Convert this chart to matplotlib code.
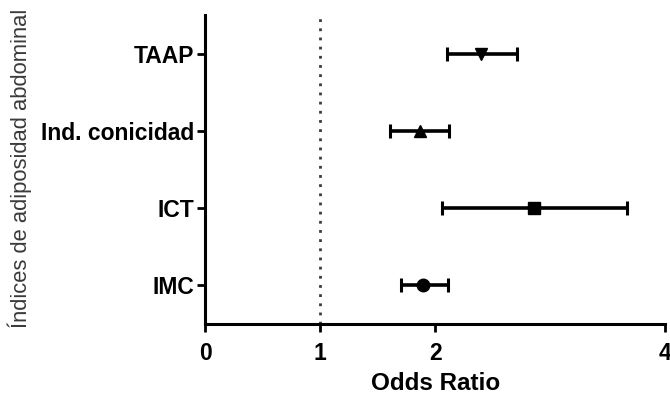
import matplotlib.pyplot as plt

# Odds ratios with 95% CI per abdominal adiposity index
labels = ['IMC', 'ICT', 'Ind. conicidad', 'TAAP']
odds = [1.89, 2.86, 1.87, 2.40]
ci_low = [1.70, 2.06, 1.61, 2.10]
ci_high = [2.11, 3.67, 2.12, 2.71]
markers = ['o', 's', '^', 'v']
xticks = [0, 1, 2, 4]

plt.rcParams['font.family'] = ['Liberation Sans', 'DejaVu Sans']

fig = plt.figure(figsize=(6.7, 3.96), dpi=100)
ax = fig.add_axes([0.306, 0.182, 0.687, 0.78])

# reference line at OR = 1
ax.axvline(1, color='#3a3a3a', linestyle=(0, (1, 2.3)), linewidth=2.0, zorder=1)

for i, (m, lo, hi, mk) in enumerate(zip(odds, ci_low, ci_high, markers)):
    y = i + 1
    ax.errorbar(m, y, xerr=[[m - lo], [hi - m]], fmt=mk, color='black',
                ecolor='black', elinewidth=2.6, capsize=5, capthick=2.2,
                markersize=9, zorder=3)

ax.set_xlim(0, 4)
ax.set_ylim(0.5, 4.5)
ax.set_xticks(xticks)
ax.set_xticklabels([str(t) for t in xticks], fontsize=16.5, fontweight='bold')
ax.set_yticks(range(1, len(labels) + 1))
ax.set_yticklabels(labels, fontsize=16.5, fontweight='bold')
ax.tick_params(axis='both', length=6, width=2, color='black', pad=2)
ax.tick_params(axis='x', pad=7)

for side in ['top', 'right']:
    ax.spines[side].set_visible(False)
for side in ['left', 'bottom']:
    ax.spines[side].set_linewidth(2.2)

ax.set_xlabel('Odds Ratio', fontsize=17.5, fontweight='bold', labelpad=5)
fig.text(0.03, 0.576, 'Índices de adiposidad abdominal', rotation=90,
         ha='center', va='center', fontsize=15.8, color='#3a3a3a')

fig.savefig('out.png', dpi=100, facecolor='white')
